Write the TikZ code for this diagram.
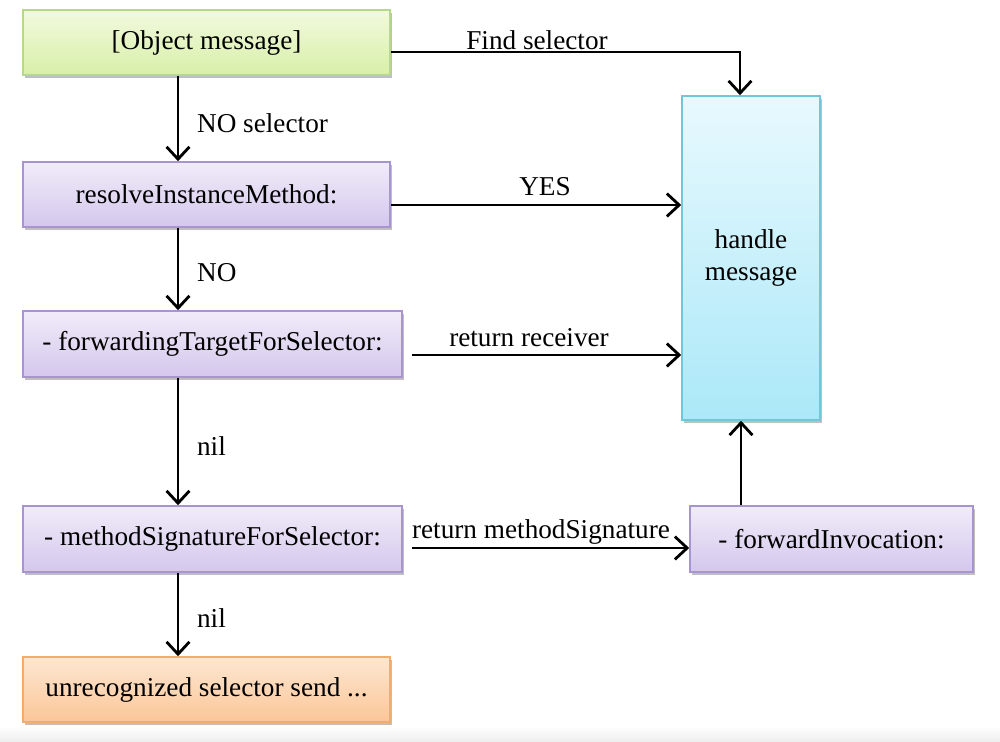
\documentclass[tikz,border=0pt]{standalone}
\usepackage{fontspec}
\setmainfont{Liberation Serif}
\usetikzlibrary{arrows.meta,shadows}
\definecolor{gtop}{HTML}{F2FADF}\definecolor{gbot}{HTML}{D8EFA8}\definecolor{gbrd}{HTML}{B5D88A}
\definecolor{ptop}{HTML}{F1ECF9}\definecolor{pbot}{HTML}{D4C7EC}\definecolor{pbrd}{HTML}{A894CF}
\definecolor{otop}{HTML}{FDE7D1}\definecolor{obot}{HTML}{FBC698}\definecolor{obrd}{HTML}{F2AC6C}
\definecolor{ctop}{HTML}{E8F9FE}\definecolor{cbot}{HTML}{ABE8F8}\definecolor{cbrd}{HTML}{72C6DC}
\tikzset{
  box/.style={rectangle, draw, line width=0.9pt, inner sep=0pt, align=center,
    font=\fontsize{15.5}{18.5}\selectfont,
    drop shadow={opacity=0.25, shadow xshift=1pt, shadow yshift=-1.6pt, fill=black}},
  greenbox/.style={box, draw=gbrd, top color=gtop, bottom color=gbot},
  purplebox/.style={box, draw=pbrd, top color=ptop, bottom color=pbot},
  orangebox/.style={box, draw=obrd, top color=otop, bottom color=obot},
  cyanbox/.style={box, draw=cbrd, top color=ctop, bottom color=cbot},
  arr/.style={-{Straight Barb[length=7pt,width=13pt,line width=1.6pt]}, line width=1.3pt, black},
  lbl/.style={font=\fontsize{15.5}{18.5}\selectfont, inner sep=1pt}
}
\begin{document}
\begin{tikzpicture}[x=0.02cm,y=-0.02cm]
\useasboundingbox (0,0) rectangle (1000,742);
\fill[white] (0,0) rectangle (1000,742);
\shade[top color=white, bottom color=black!7] (0,726) rectangle (1000,742);

\node[greenbox, minimum width=7.34cm, minimum height=1.3cm] (obj) at (206.5,42.5) {[Object message]};
\node[purplebox, minimum width=7.34cm, minimum height=1.3cm] (res) at (206.5,194.5) {resolveInstanceMethod:};
\node[purplebox, minimum width=7.58cm, minimum height=1.32cm] (fwd) at (212.5,344) {- forwardingTargetForSelector:};
\node[purplebox, minimum width=7.58cm, minimum height=1.32cm] (sig) at (212.5,539) {- methodSignatureForSelector:};
\node[orangebox, minimum width=7.34cm, minimum height=1.3cm] (unr) at (206.5,689.5) {unrecognized selector send ...};
\node[cyanbox, minimum width=2.76cm, minimum height=6.48cm] (hnd) at (751,258) {handle\\message};
\node[purplebox, minimum width=5.66cm, minimum height=1.32cm] (inv) at (831.5,539) {- forwardInvocation:};

\coordinate (fs) at (740,52);
\draw[arr] (obj.east |- fs) -- (fs) -- (fs |- hnd.north);
\node[lbl] (lfs) at (537,40) {Find selector};

\draw[arr] (obj.south -| 178,0) -- (res.north -| 178,0);
\node[lbl, anchor=west] (lns) at (195,123) {NO selector};

\coordinate (ys) at (0,205);
\draw[arr] (res.east |- ys) -- (ys -| hnd.west);
\node[lbl] (lyes) at (545,187) {YES};

\draw[arr] (res.south -| 178,0) -- (fwd.north -| 178,0);
\node[lbl, anchor=west] (lno) at (195,273) {NO};

\coordinate (rr) at (412,355);
\draw[arr] (rr) -- (rr -| hnd.west);
\node[lbl] (lrr) at (529,338) {return receiver};

\draw[arr] (fwd.south -| 178,0) -- (sig.north -| 178,0);
\node[lbl, anchor=west] (ln1) at (195,446) {nil};

\coordinate (rm) at (412,548);
\draw[arr] (rm) -- (rm -| inv.west);
\node[lbl] (lrm) at (541,532) {return methodSignature};

\draw[arr] (inv.north -| 741,0) -- (hnd.south -| 741,0);

\draw[arr] (sig.south -| 178,0) -- (unr.north -| 178,0);
\node[lbl, anchor=west] (ln2) at (195,618) {nil};
\end{tikzpicture}
\end{document}
